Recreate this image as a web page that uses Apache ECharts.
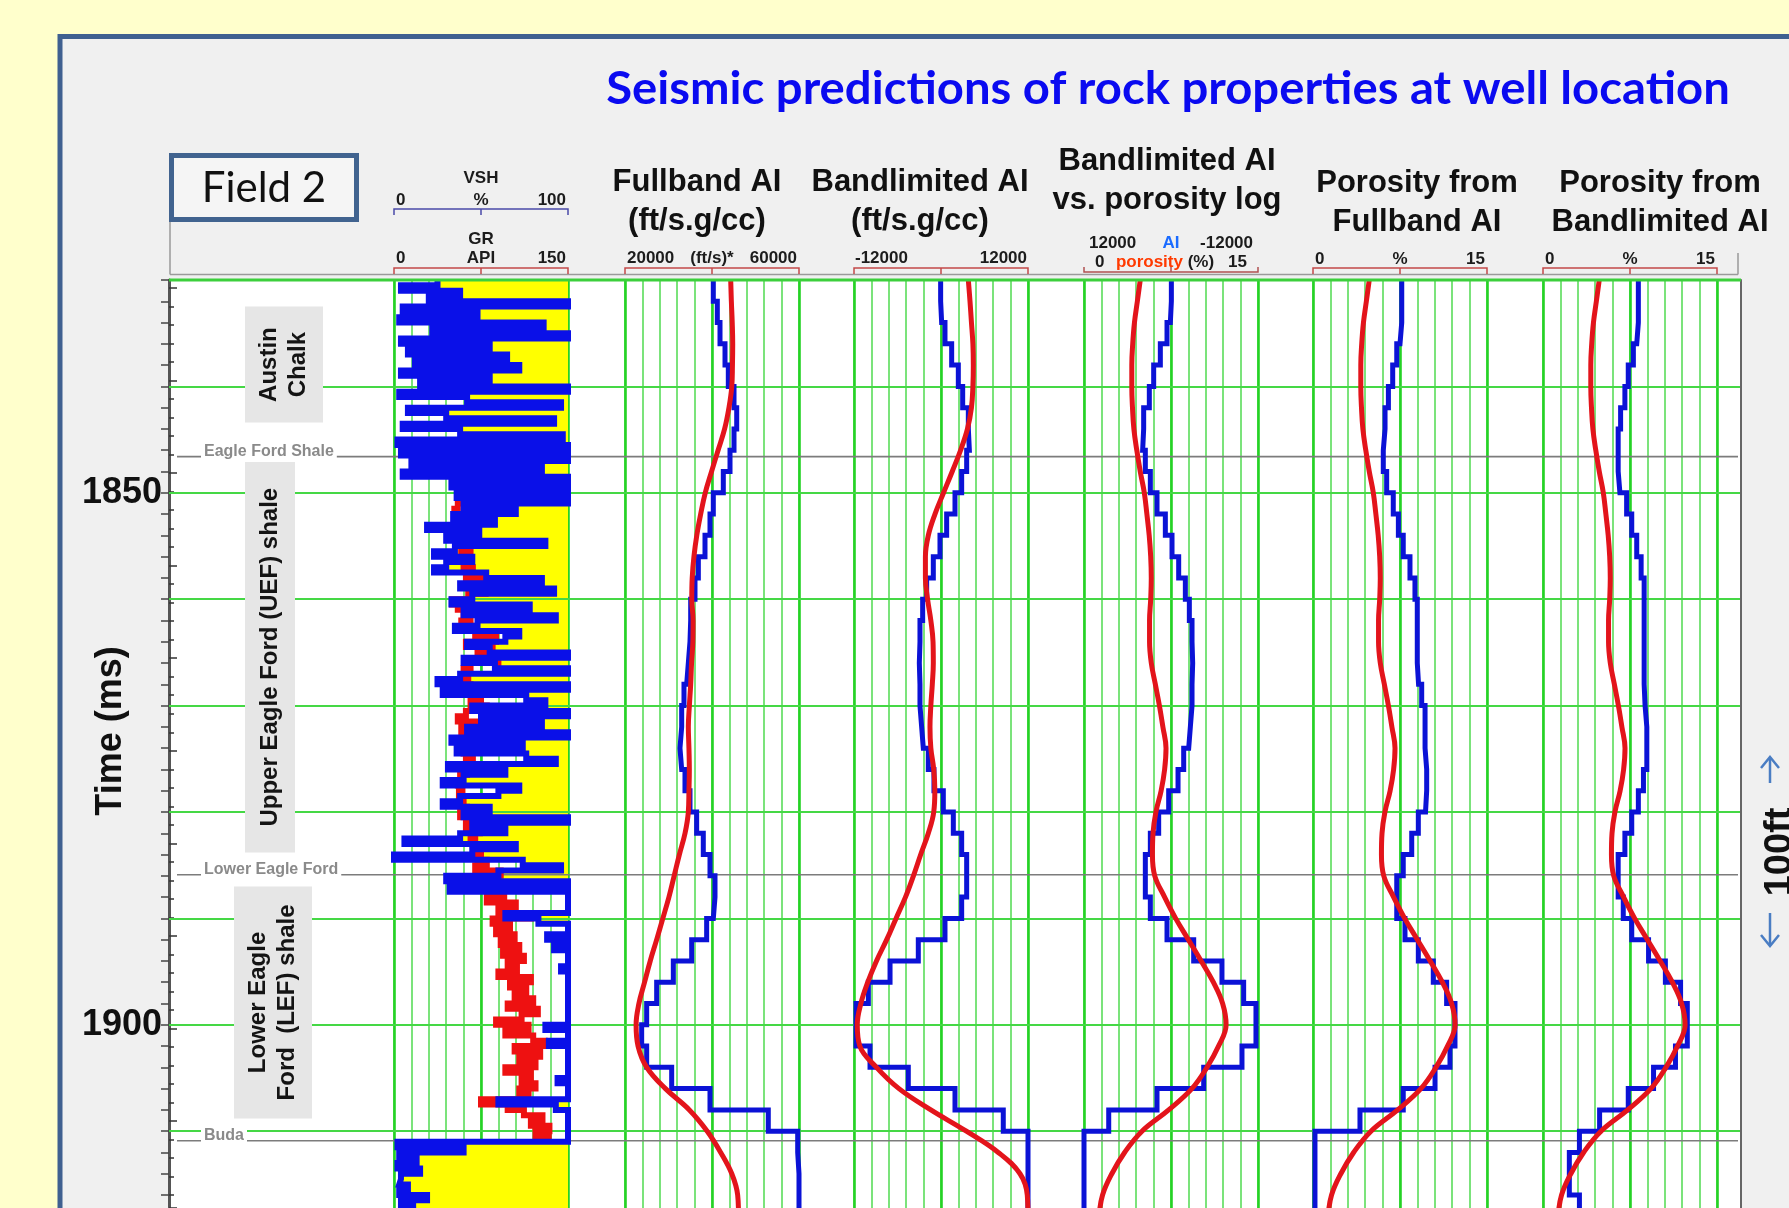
<!DOCTYPE html>
<html>
<head>
<meta charset="utf-8">
<title>Seismic predictions of rock properties at well location</title>
<script src="https://cdn.jsdelivr.net/npm/echarts@6/dist/echarts.min.js"></script>
<style>
  html, body { margin: 0; padding: 0; background: #ffffcc; }
  #chart { width: 1789px; height: 1208px; }
</style>
</head>
<body>
<div id="chart"></div>
<script>
// ---------------------------------------------------------------------------
// Data
// ---------------------------------------------------------------------------
const T_MIN = 1830, T_MAX = 1918;          // two-way time window (ms)

// Two-millisecond sample times (seismic traces and the logs read at the same times)
const TIME_2MS = [1830,1832,1834,1836,1838,1840,1842,1844,1846,1848,
                  1850,1852,1854,1856,1858,1860,1862,1864,1866,1868,
                  1870,1872,1874,1876,1878,1880,1882,1884,1886,1888,
                  1890,1892,1894,1896,1898,1900,1902,1904,1906,1908,
                  1910,1912,1914,1916,1918];

// Fullband acoustic impedance, (ft/s)*(g/cc)
const FB_AI_LOG = [44300,44450,44650,44760,44700,44550,43900,42900,41400,39900,
                   38450,37400,36500,35850,35450,35350,35650,35600,35300,35100,
                   34800,34560,34700,34790,34700,34560,33800,32500,31300,30100,
                   28700,27280,25800,24500,23200,22550,23000,25000,29300,34800,
                   38900,42000,44550,45900,46100];
const FB_AI_SEIS = [40300,41220,41840,42990,43750,45060,45680,45060,44140,42600,
                    40300,39540,38390,36860,36090,35100,34940,34560,34180,33560,
                    33030,32640,33030,33790,34940,36470,38000,39540,40690,40300,
                    38770,35330,31110,27280,24980,23830,24980,30730,39540,52940,
                    59700,60000,60000,60000,60000];

// Bandlimited acoustic impedance
const BL_AI_LOG = [3770,4000,4200,4400,4460,4400,4200,3650,2700,1550,
                   350,-830,-1750,-2150,-2150,-1850,-1400,-1100,-1060,-1200,
                   -1400,-1520,-1400,-1000,-850,-1000,-1750,-2800,-3800,-4900,
                   -6200,-7490,-8900,-10100,-11050,-11550,-11200,-8900,-5800,-1400,
                   3500,7900,10900,11900,12000];
const BL_AI_SEIS = [-50,90,550,1470,2390,2990,3770,3910,3540,2850,
                    1930,780,-140,-1060,-1980,-2530,-2900,-2990,-2900,-2900,
                    -2670,-2440,-1750,-970,320,1700,2850,3540,3540,2850,
                    550,-3130,-7030,-10020,-11720,-11720,-9790,-4510,1930,8590,
                    12000,12000,12000,12000,12000];

// Porosity (%)
const POROSITY_LOG = [4.85,4.6,4.35,4.2,4.12,4.12,4.18,4.3,4.55,4.85,
                      5.2,5.42,5.62,5.75,5.8,5.75,5.65,5.65,5.8,6.15,
                      6.5,6.8,7.07,6.95,6.65,6.2,5.95,5.9,6.1,6.95,
                      7.9,9.0,10.1,11.15,11.95,12.25,11.6,10.6,9.3,7.3,
                      5.0,3.5,2.4,1.6,1.3];
const POROSITY_FROM_FB = [7.65,7.65,7.5,7.22,6.87,6.5,6.21,6.06,6.06,6.35,
                          6.92,7.36,7.78,8.36,8.79,8.99,8.99,8.99,9.1,9.37,
                          9.66,9.66,9.8,9.8,9.7,9.08,8.51,7.78,7.22,7.22,
                          7.93,9.08,10.37,11.52,12.24,12.24,11.81,10.52,7.78,4.05,
                          0.17,0.17,0.17,0.17,0.17];
const POROSITY_FROM_BL = [8.22,8.22,8.08,7.79,7.35,7.06,6.69,6.48,6.48,6.63,
                          7.21,7.65,8.08,8.46,8.72,8.72,8.72,8.72,8.72,8.8,
                          8.95,8.95,8.95,8.66,8.22,7.65,7.06,6.48,6.48,6.92,
                          7.65,9.1,10.55,11.86,12.44,12.44,11.42,9.53,7.35,4.88,
                          3.14,2.27,2.27,3.14,3.14];

// Shale volume (%) and gamma ray (API), half-millisecond samples
const HALF_MS = 0.5;
const VSH_START = 1830;
const VSH = [
  25,4,38,20,100,5,48,3,86,22,100,4,55,8,65,12,72,4,55,15,100,3,42,96,8,30,92,5,38,97,2,100,4,100,
  10,85,5,100,
  33,100,36,100,40,70,34,58,19,49,
  30,87,35,23,45,30,23,53,85,38,
  92,45,33,78,40,93,48,35,72,64,
  42,55,100,40,58,100,38,25,100,28,
  76,87,45,100,50,85,42,100,33,74,
  36,76,93,31,64,40,28,72,60,38,
  28,55,40,100,45,64,38,6,70,45,
  0,74,96,60,
  30,100,32,100,100,100,100,64,83,100,
  100,88,100,92,100,100,100,96,100,100,
  100,100,100,100,100,100,100,100,87,100,
  100,89,100,100,100,100,100,100,94,100,
  100,100,60,93,100,100,100,100,100,100,
  2,40,3,13,2,15,4,3,8,3,19,4,11,3,6
];
const GR_START = 1848.5;
const GR = [
  55,60,66,58,68,55,52,60,57,64,
  55,72,60,66,58,63,60,68,62,76,
  66,79,64,50,55,60,66,58,67,70,
  88,62,85,72,90,66,60,64,58,66,
  62,75,66,80,62,55,74,58,78,62,
  70,60,68,62,58,63,57,55,59,56,
  60,58,63,57,70,62,74,66,70,68,
  75,72,80,70,92,78,88,82,95,80,
  105,90,118,85,100,88,104,92,108,94,
  112,98,106,90,118,100,114,104,120,98,
  124,110,88,116,96,120,130,104,126,108,
  122,96,118,110,122,108,116,75,98,112,
  128,118,134,122,136
];

// Formation tops and zones (ms)
const TOP_MS    = [1846.6, 1885.9, 1910.9];
const TOP_NAMES = ['Eagle Ford Shale', 'Lower Eagle Ford', 'Buda'];
const ZONE_TOP_MS  = [1832.5, 1847.1, 1887.0];
const ZONE_BASE_MS = [1843.4, 1883.8, 1908.8];
const ZONE_NAMES   = ['Austin\nChalk', 'Upper Eagle Ford (UEF) shale', 'Lower Eagle\nFord  (LEF) shale'];

// ---------------------------------------------------------------------------
// Layout
// ---------------------------------------------------------------------------
const PLOT_L = 169, PLOT_T = 280, PLOT_W = 1572, PLOT_H = 936.3;
const TRACK_LEFT = [394, 625, 854, 1084, 1313, 1543];
const TRACK_W = 174;
const ZONE_BOX = [{cx: 284, w: 78}, {cx: 270, w: 50}, {cx: 273, w: 78}];

const SANS = '"Liberation Sans", Arial, sans-serif';
const RED = '#e3141b', BLUE = '#0b12d6';

const pairs = (vals, times) => vals.map((v, i) => [v, times[i]]);
const halfMsTimes = (start, n) => Array.from({length: n}, (_, i) => start + i * HALF_MS);
const VSH_TIME = halfMsTimes(VSH_START, VSH.length);
const GR_TIME = halfMsTimes(GR_START, GR.length);

// ---------------------------------------------------------------------------
// Grids and axes
// ---------------------------------------------------------------------------
const grids = [
  {left: PLOT_L, top: PLOT_T, width: PLOT_W, height: PLOT_H},     // 0: time frame
  {left: PLOT_L, top: 288, width: PLOT_W, height: 920},           // 1: depth ticks
  ...TRACK_LEFT.map(l => ({left: l, top: PLOT_T, width: TRACK_W, height: PLOT_H}))
].map(g => Object.assign(g, {show: false, containLabel: false, outerBoundsMode: 'none'}));

const hiddenX = (gridIndex) => ({gridIndex, type: 'value', min: 0, max: 1, show: false});
const gridX = (gridIndex, min, max, interval, major, inverse) => ({
  gridIndex, type: 'value', min, max, interval, inverse: !!inverse,
  axisLine: {show: false}, axisTick: {show: false}, axisLabel: {show: false},
  splitLine: {show: true, lineStyle: major ? {color: '#25d225', width: 2.6} : {color: '#4fda4f', width: 1.5}}
});
const xAxes = [
  hiddenX(0),                                   // 0
  hiddenX(1),                                   // 1
  gridX(2, 0, 100, 10, false),                  // 2 VSH %
  gridX(2, 0, 150, 75, true),                   // 3 GR API
  gridX(3, 20000, 60000, 4000, false),          // 4 fullband AI
  gridX(3, 20000, 60000, 20000, true),          // 5
  gridX(4, -12000, 12000, 2400, false),         // 6 bandlimited AI
  gridX(4, -12000, 12000, 12000, true),         // 7
  gridX(5, 0, 15, 1.5, false),                  // 8 porosity
  gridX(5, -12000, 12000, 12000, true, true),   // 9 bandlimited AI, reversed
  gridX(6, 0, 15, 1.5, false),                  // 10
  gridX(6, 0, 15, 7.5, true),                   // 11
  gridX(7, 0, 15, 1.5, false),                  // 12
  gridX(7, 0, 15, 7.5, true)                    // 13
];

const trackY = g => ({gridIndex: g, type: 'value', inverse: true, min: T_MIN, max: T_MAX, show: false});
const yAxes = [
  { // 0: time scale on the left
    gridIndex: 0, type: 'value', inverse: true, min: T_MIN, max: T_MAX, interval: 2, position: 'left',
    axisLine: {show: true, lineStyle: {color: '#555', width: 3}},
    axisTick: {show: true, inside: false, length: 8, lineStyle: {color: '#444', width: 1.5}},
    axisLabel: {show: true, margin: 7, formatter: v => (v % 50 === 0 ? String(v) : ''),
      fontSize: 36, fontWeight: 'bold', fontFamily: SANS, color: '#111'},
    splitLine: {show: false}
  },
  { // 1: 10 ms timing lines
    gridIndex: 0, type: 'value', inverse: true, min: T_MIN, max: T_MAX, interval: 10, position: 'right', z: 2,
    axisLine: {show: true, lineStyle: {color: '#666', width: 2}},
    axisTick: {show: false}, axisLabel: {show: false},
    splitLine: {show: true, lineStyle: {color: '#45d845', width: 2}}
  },
  { // 2: depth ticks (10 ft / 50 ft) on the right
    gridIndex: 1, type: 'value', inverse: true, min: 0, max: 497, interval: 50, position: 'right',
    axisLine: {show: false}, axisLabel: {show: false}, splitLine: {show: false},
    axisTick: {show: true, inside: false, length: 8, lineStyle: {color: '#333', width: 1.5}},
    minorTick: {show: true, splitNumber: 5, length: 5, lineStyle: {color: '#333', width: 1.5}}
  },
  trackY(2), trackY(3), trackY(4), trackY(5), trackY(6), trackY(7)   // 3..8
];

// ---------------------------------------------------------------------------
// Series
// ---------------------------------------------------------------------------
const curve = (xAxisIndex, yAxisIndex, data, color, width, z, extra) => Object.assign({
  type: 'line', xAxisIndex, yAxisIndex, data, symbol: 'none', showSymbol: false, clip: false, z,
  lineStyle: {color, width, join: 'miter', cap: 'butt'}, itemStyle: {color}, animation: false, silent: true
}, extra || {});
const seismic = (x, y, vals) => curve(x, y, pairs(vals, TIME_2MS), BLUE, 5, 4, {step: 'start'});
const logCurve = (x, y, vals) => curve(x, y, pairs(vals, TIME_2MS), RED, 5, 5, {smooth: 0.4});

const series = [
  { // zone name boxes
    type: 'custom', xAxisIndex: 0, yAxisIndex: 0, z: 3, silent: true, animation: false,
    data: ZONE_TOP_MS.map((t, i) => [0, t, ZONE_BASE_MS[i]]),
    renderItem: (params, api) => {
      const i = params.dataIndex, box = ZONE_BOX[i];
      const yTop = api.coord([0, api.value(1)])[1];
      const yBot = api.coord([0, api.value(2)])[1];
      return {type: 'group', children: [
        {type: 'rect', shape: {x: box.cx - box.w / 2, y: yTop, width: box.w, height: yBot - yTop},
          style: {fill: '#e6e6e6'}},
        {type: 'text', x: box.cx, y: (yTop + yBot) / 2, rotation: Math.PI / 2,
          style: {text: ZONE_NAMES[i], x: 0, y: 0, font: 'bold 24px ' + SANS, fill: '#141414',
            align: 'center', verticalAlign: 'middle', textAlign: 'center', textVerticalAlign: 'middle', lineHeight: 29}}
      ]};
    }
  },
  { // formation tops
    type: 'custom', xAxisIndex: 0, yAxisIndex: 0, z: 3, silent: true, animation: false,
    data: TOP_MS.map(t => [0, t]),
    renderItem: (params, api) => {
      const p0 = api.coord([0, api.value(1)]);
      const p1 = api.coord([1, api.value(1)]);
      return {type: 'group', children: [
        {type: 'line', shape: {x1: p0[0] + 8, y1: p0[1], x2: p1[0] - 3, y2: p1[1]},
          style: {stroke: '#7c7c7c', lineWidth: 1.6}},
        {type: 'text', x: p0[0] + 32, y: p0[1] - 5,
          style: {text: TOP_NAMES[params.dataIndex], x: 0, y: 0, font: 'bold 16px ' + SANS, fill: '#8a8a8a',
            align: 'left', verticalAlign: 'middle', textAlign: 'left', textVerticalAlign: 'middle',
            backgroundColor: '#ffffff', padding: [1, 3, 1, 3]}}
      ]};
    }
  },
  { // sand (yellow) between the shale-volume curve and 100 %
    type: 'custom', xAxisIndex: 2, yAxisIndex: 3, z: 1, silent: true, animation: false,
    data: [[0, VSH_START]],
    renderItem: (params, api) => {
      const pts = [];
      for (let i = 0; i < VSH.length; i++) {
        const t0 = VSH_TIME[i];
        const t1 = i < VSH.length - 1 ? VSH_TIME[i + 1] : t0;
        pts.push(api.coord([VSH[i], t0]), api.coord([VSH[i], t1]));
      }
      pts.push(api.coord([100, VSH_TIME[VSH.length - 1]]), api.coord([100, VSH_TIME[0]]));
      return {type: 'polygon', shape: {points: pts}, style: {fill: '#ffff00'}};
    }
  },
  curve(3, 3, pairs(GR, GR_TIME), '#ee1111', 6, 4, {step: 'start'}),
  curve(2, 3, pairs(VSH, VSH_TIME), '#0a10e8', 6, 5, {step: 'start'}),

  seismic(4, 4, FB_AI_SEIS),  logCurve(4, 4, FB_AI_LOG),
  seismic(6, 5, BL_AI_SEIS),  logCurve(6, 5, BL_AI_LOG),
  seismic(9, 6, BL_AI_SEIS),  logCurve(8, 6, POROSITY_LOG),
  seismic(10, 7, POROSITY_FROM_FB), logCurve(10, 7, POROSITY_LOG),
  seismic(12, 8, POROSITY_FROM_BL), logCurve(12, 8, POROSITY_LOG)
];

// ---------------------------------------------------------------------------
// Panel decoration, titles and track headers
// ---------------------------------------------------------------------------
const G = [];
const text = (x, y, str, font, fill, align, extra) => G.push(Object.assign({
  type: 'text', x, y, z: 100,
  style: Object.assign({text: str, font, fill, align: align || 'center', verticalAlign: 'middle',
    textAlign: align || 'center', textVerticalAlign: 'middle'}, (extra && extra.style) || {})
}, extra && extra.el));
const seg = (x1, y1, x2, y2, stroke, lineWidth) =>
  G.push({type: 'line', z: 50, shape: {x1, y1, x2, y2}, style: {stroke, lineWidth}});
const bracket = (L, R, y, color, d) => {
  G.push({type: 'polyline', z: 50, shape: {points: [[L, y + d], [L, y], [R, y], [R, y + d]]},
    style: {stroke: color, lineWidth: 1.5, fill: null}});
  seg((L + R) / 2, y, (L + R) / 2, y + d, color, 1.5);
};

// page frame and plot background
G.push({type: 'rect', z: -100, shape: {x: 60, y: 36.5, width: 1800, height: 1250},
  style: {fill: '#f0f0f0', stroke: '#3f6090', lineWidth: 5}});
G.push({type: 'rect', z: -90, shape: {x: PLOT_L, y: PLOT_T, width: PLOT_W, height: 1208 - PLOT_T},
  style: {fill: '#ffffff'}});
// heavier timing line along the top of the plot
G.push({type: 'line', z: 40, shape: {x1: PLOT_L, y1: PLOT_T, x2: PLOT_L + PLOT_W, y2: PLOT_T},
  style: {stroke: '#3ccf3c', lineWidth: 3}});

// main title
text(1168, 89, 'Seismic predictions of rock properties at well location',
  'bold 45px Lato, "Open Sans", sans-serif', '#0a0af0', 'center', {el: {scaleX: 1.05}});

// field label
G.push({type: 'rect', z: 60, shape: {x: 171.5, y: 155.5, width: 185, height: 64},
  style: {fill: '#f5f5f5', stroke: '#41638f', lineWidth: 5}});
text(264, 188, 'Field 2', '42px Lato, "Open Sans", sans-serif', '#111');

// time axis title
text(111, 731, 'Time (ms)', 'bold 36px ' + SANS, '#111', 'center', {el: {rotation: Math.PI / 2}});

// header frame lines
seg(170, 274.5, 1738, 274.5, '#9a9a9a', 1.5);
seg(170, 222, 170, 274.5, '#9a9a9a', 1.5);
seg(1738, 253, 1738, 274.5, '#9a9a9a', 1.5);

// column titles
const TITLE_FONT = 'bold 31px ' + SANS;
const title2 = (x, y, str) => text(x, y, str, TITLE_FONT, '#111', 'center', {style: {lineHeight: 39}});
title2(697, 202, 'Fullband AI\n(ft/s.g/cc)');
title2(920, 202, 'Bandlimited AI\n(ft/s.g/cc)');
title2(1167, 181, 'Bandlimited AI\nvs. porosity log');
title2(1417, 203, 'Porosity from\nFullband AI');
title2(1660, 203, 'Porosity from\nBandlimited AI');

// scale labels
const SF = 'bold 17px ' + SANS, SC = '#1c1c1c';
const scaleRow = (k, y, left, mid, right, inset) => {
  const L = TRACK_LEFT[k], R = L + TRACK_W, M = L + TRACK_W / 2;
  const pad = inset || 2;
  if (left !== null) text(L + pad, y, left, SF, SC, 'left');
  if (mid !== null) text(M, y, mid, SF, SC, 'center');
  if (right !== null) text(R - pad, y, right, SF, SC, 'right');
};
// gamma ray / shale volume
text(TRACK_LEFT[0] + TRACK_W / 2, 178, 'VSH', SF, SC);
scaleRow(0, 200, '0', '%', '100');
bracket(TRACK_LEFT[0], TRACK_LEFT[0] + TRACK_W, 209, '#4a4aa8', 6);
text(TRACK_LEFT[0] + TRACK_W / 2, 239, 'GR', SF, SC);
scaleRow(0, 258, '0', 'API', '150');
// impedance tracks
scaleRow(1, 258, '20000', '(ft/s)*', '60000');
scaleRow(2, 258, '-12000', null, '12000', 1);
// impedance vs porosity
scaleRow(3, 243, '12000', null, '-12000', 5);
text(TRACK_LEFT[3] + TRACK_W / 2, 243, 'AI', SF, '#1a6bff');
scaleRow(3, 262, '0', null, '15', 11);
text(TRACK_LEFT[3] + TRACK_W / 2 - 6, 262, '{p|porosity} (%)', SF, SC, 'center',
  {style: {rich: {p: {fill: '#ff3a00', font: SF, color: '#ff3a00'}}}});
// porosity tracks
scaleRow(4, 259, '0', '%', '15');
scaleRow(5, 259, '0', '%', '15');

[0, 1, 2, 4, 5].forEach(k => bracket(TRACK_LEFT[k], TRACK_LEFT[k] + TRACK_W, 268, '#c24848', 6));
bracket(TRACK_LEFT[3], TRACK_LEFT[3] + TRACK_W, 272, '#b05050', -5);

// 100 ft depth marker on the right
text(1781, 852, '100ft', 'bold 38px ' + SANS, '#111', 'center', {el: {rotation: Math.PI / 2}});
const ARROW = '#4a7dc3';
seg(1770, 783, 1770, 758, ARROW, 2.5);
G.push({type: 'polyline', z: 50, shape: {points: [[1761, 768], [1770, 757], [1779, 768]]},
  style: {stroke: ARROW, lineWidth: 2.5, fill: null}});
seg(1770, 913, 1770, 945, ARROW, 2.5);
G.push({type: 'polyline', z: 50, shape: {points: [[1761, 935], [1770, 946], [1779, 935]]},
  style: {stroke: ARROW, lineWidth: 2.5, fill: null}});

// ---------------------------------------------------------------------------
const chart = echarts.init(document.getElementById('chart'), null, {renderer: 'canvas', width: 1789, height: 1208});
chart.setOption({
  backgroundColor: '#ffffcc',
  animation: false,
  grid: grids,
  xAxis: xAxes,
  yAxis: yAxes,
  series,
  graphic: {elements: G}
});
</script>
</body>
</html>
